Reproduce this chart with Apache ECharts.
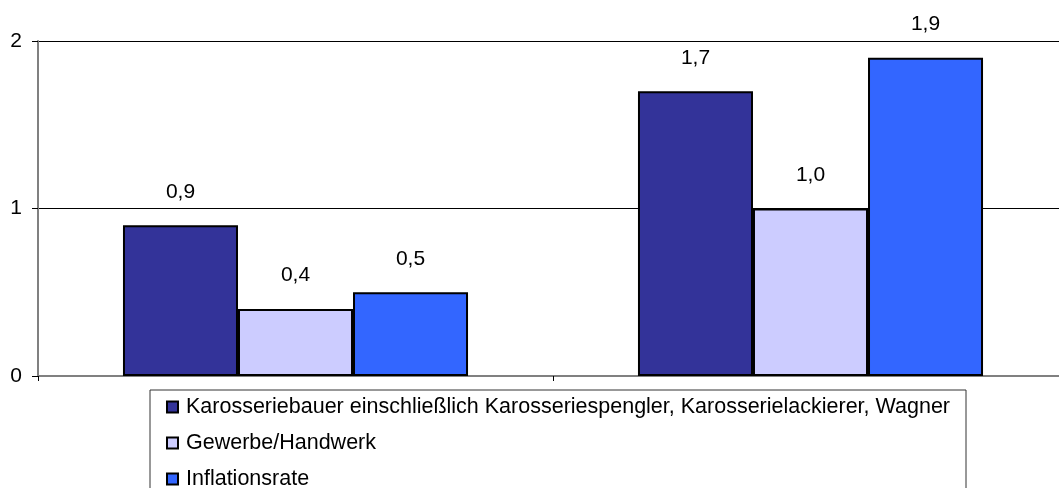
<!DOCTYPE html>
<html>
<head>
<meta charset="utf-8">
<script src="https://cdn.jsdelivr.net/npm/echarts@6/dist/echarts.min.js"></script>
<style>
  html, body { margin: 0; padding: 0; background: #fff; }
  #chart { width: 1059px; height: 488px; }
</style>
</head>
<body>
<div id="chart"></div>
<script>
// Kategorien (ohne Beschriftung im Original)
const categories = ['A', 'B'];

const seriesNames = [
  'Karosseriebauer einschließlich Karosseriespengler, Karosserielackierer, Wagner',
  'Gewerbe/Handwerk',
  'Inflationsrate'
];

const karosserie = [0.9, 1.7];
const gewerbe = [0.4, 1.0];
const inflation = [0.5, 1.9];

const yTicks = [0, 1, 2];

const colors = ['#333399', '#CCCCFF', '#3366FF'];

const chart = echarts.init(document.getElementById('chart'));

const makeSeries = (name, data, color) => ({
  name: name,
  type: 'bar',
  data: data,
  barGap: '0%',
  barCategoryGap: '33%',
  itemStyle: {
    color: color,
    borderColor: '#000',
    borderWidth: 2
  },
  label: {
    show: true,
    position: 'top',
    distance: 23,
    color: '#000',
    fontFamily: 'Liberation Sans, Arial',
    fontSize: 21,
    formatter: (p) => p.value.toFixed(1).replace('.', ',')
  }
});

const option = {
  animation: false,
  textStyle: { fontFamily: 'Liberation Sans, Arial' },
  grid: {
    left: 38,
    right: -9,
    top: 41,
    bottom: 112,
    containLabel: false,
    outerBoundsMode: 'none'
  },
  legend: {
    orient: 'vertical',
    left: 150,
    top: 390,
    height: 300,
    padding: [5, 16, 20, 16],
    borderColor: '#333',
    borderWidth: 1,
    itemWidth: 11,
    itemHeight: 11,
    itemGap: 12,
    icon: 'rect',
    textStyle: {
      fontFamily: 'Liberation Sans, Arial',
      fontSize: 21.5,
      color: '#000',
      lineHeight: 24,
      padding: [0, 0, 0, 3]
    },
    itemStyle: { borderColor: '#000', borderWidth: 2 },
    data: seriesNames
  },
  xAxis: {
    type: 'category',
    data: categories,
    axisLine: { lineStyle: { color: '#808080', width: 2 } },
    axisTick: { show: true, length: 5, lineStyle: { color: '#000' } },
    axisLabel: { show: false }
  },
  yAxis: {
    type: 'value',
    min: yTicks[0],
    max: yTicks[yTicks.length - 1],
    interval: 1,
    axisLine: { show: true, lineStyle: { color: '#808080', width: 2 } },
    axisTick: { show: true, length: 6, lineStyle: { color: '#000' } },
    axisLabel: {
      color: '#000',
      fontSize: 21,
      margin: 16,
      fontFamily: 'Liberation Sans, Arial'
    },
    splitLine: { show: true, lineStyle: { color: '#000', width: 1 } }
  },
  series: [
    makeSeries(seriesNames[0], karosserie, colors[0]),
    makeSeries(seriesNames[1], gewerbe, colors[1]),
    makeSeries(seriesNames[2], inflation, colors[2])
  ]
};

chart.setOption(option);
</script>
</body>
</html>
